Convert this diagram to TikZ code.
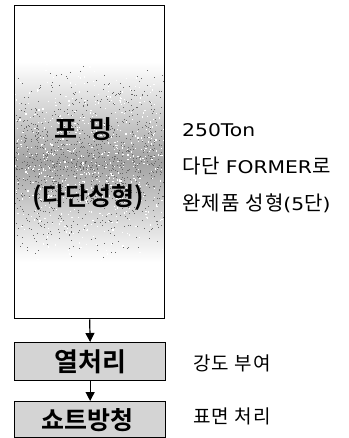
\documentclass[tikz,border=0pt]{standalone}
\usepackage{fontspec}
\newfontfamily\kr{Noto Sans CJK KR}[BoldFont={Noto Sans CJK KR Bold}]
\newfontfamily\krs{Noto Sans CJK KR}[LetterSpace=6]
\newfontfamily\lat{DejaVu Sans}
\usetikzlibrary{arrows.meta}
\tikzset{
  boxline/.style={draw=black, line width=1.3pt},
  flowarrow/.style={line width=1.2pt, -{Triangle[length=9pt,width=9pt]}},
  boxtext/.style={font=\kr\bfseries\fontsize{25}{28}\selectfont, inner sep=0pt},
  sidetext/.style={font=\krs\fontsize{19}{22}\selectfont, anchor=base west, inner sep=0pt},
  widetext/.style={sidetext, font=\krs\fontsize{20}{22}\selectfont},
}
\newcommand{\latx}[1]{\scalebox{1.16}[1]{\lat\fontsize{17.5}{20}\selectfont #1}}
\begin{document}
\begin{tikzpicture}[x=1pt,y=-1pt]
\useasboundingbox (0,0) rectangle (348,438);
% big box shading
\shade[top color=white, bottom color=white, middle color=black!36] (14,62) rectangle (164,262);
\pgfmathsetseed{7}
\foreach \i in {1,...,1100}{
  \pgfmathsetmacro{\px}{15+148*rnd}
  \pgfmathsetmacro{\py}{62+200*(rnd+rnd)/2}
  \fill[black!60] (\px,\py) rectangle ++(1,1);
}
\foreach \i in {1,...,600}{
  \pgfmathsetmacro{\px}{15+148*rnd}
  \pgfmathsetmacro{\py}{62+200*(rnd+rnd)/2}
  \fill[white] (\px,\py) rectangle ++(1.2,1.2);
}
\node[boxline, minimum width=150pt, minimum height=313pt, anchor=north west, inner sep=0pt] (form) at (14,5) {};
\node[boxtext] (t1) at (83,129) {포\hspace{12pt}밍};
\node[boxtext] (t2) at (88,197) {(다단성형)};
% small boxes
\node[boxline, fill=black!17, minimum width=151pt, minimum height=38pt, anchor=north west, inner sep=0pt] (heat) at (14,342) {};
\node[boxline, fill=black!17, minimum width=151pt, minimum height=36pt, anchor=north west, inner sep=0pt] (shot) at (14,401) {};
\node[boxtext] (t3) at (heat.center) {\fontsize{26}{28}\selectfont 열처리};
\node[boxtext] (t4) at (87,420) {쇼트방청};
% arrows
\draw[flowarrow] (form.south) -- (heat.north);
\draw[flowarrow] (heat.south) -- (shot.north);
% side texts
\node[sidetext] (s1) at (182,137) {\latx{250Ton}};
\node[widetext] (s2) at (182,174) {다단 \latx{FORMER}로};
\node[widetext] (s3) at (182,210) {완제품 성형\latx{(5}단\latx{)}};
\node[sidetext] (s4) at (193,370) {강도 부여};
\node[sidetext] (s5) at (193,423) {표면 처리};
\end{tikzpicture}
\end{document}
